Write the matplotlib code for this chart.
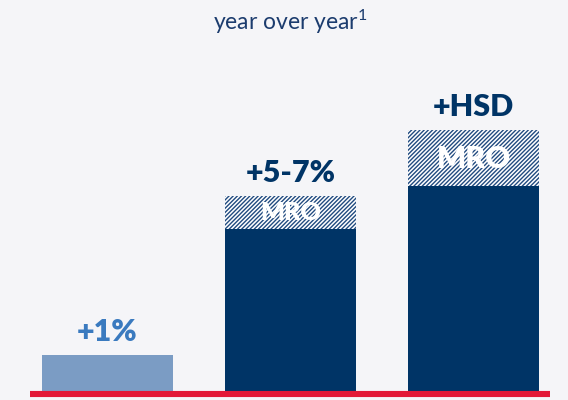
import matplotlib
matplotlib.use("Agg")
import matplotlib.pyplot as plt

categories = ["Prior", "Guide", "Outlook"]
base_values = [36, 162, 205]
mro_values = [0, 33, 56]
labels = ["+1%", "+5-7%", "+HSD"]
mro_labels = ["", "MRO", "MRO"]
title = "year over year$^{1}$"

BG = "#f5f5f8"
NAVY = "#003466"
LIGHT = "#7b9cc4"
LABEL_LIGHT = "#3a7abf"
RED = "#e31837"

plt.rcParams['font.family'] = ['Lato', 'DejaVu Sans']
plt.rcParams['hatch.linewidth'] = 1.0
plt.rcParams['mathtext.fontset'] = 'custom'
plt.rcParams['mathtext.rm'] = 'Lato'
plt.rcParams['mathtext.it'] = 'Lato'

fig = plt.figure(figsize=(5.68, 4.0), dpi=100, facecolor=BG)
ax = fig.add_axes([0, 0, 1, 1], facecolor=BG)

x = list(range(len(categories)))
width = 0.716
colors = [LIGHT, NAVY, NAVY]
ax.bar(x, base_values, width=width, color=colors, linewidth=0, zorder=2)
ax.bar(x, mro_values, width=width, bottom=base_values, facecolor="white",
       edgecolor="#214b80", hatch="////////", linewidth=0, zorder=2)

for i in x:
    top = base_values[i] + mro_values[i]
    ax.text(i, top + 9, labels[i], ha="center", va="bottom", fontsize=22,
            fontweight="heavy", color=LABEL_LIGHT if i == 0 else NAVY)
    if mro_labels[i]:
        ax.text(i, base_values[i] + mro_values[i] / 2 - 1, mro_labels[i], ha="center",
                va="center", fontsize=22 if mro_values[i] > 40 else 18,
                fontweight="heavy", color="white", zorder=3)

# red baseline
x_left = (30 - 107.5) / 183
x_right = (550 - 107.5) / 183
ax.plot([x_left, x_right], [-3, -3], color=RED, linewidth=4.4,
        solid_capstyle="butt", zorder=3)

ax.text(1.0, 369, title, ha="center", va="center", fontsize=16.5,
        color="#1c3c6e")

ax.set_xlim((0 - 107.5) / 183, (568 - 107.5) / 183)
ax.set_ylim(-9, 391)
ax.axis("off")

fig.savefig("out.png", dpi=100, facecolor=BG)
